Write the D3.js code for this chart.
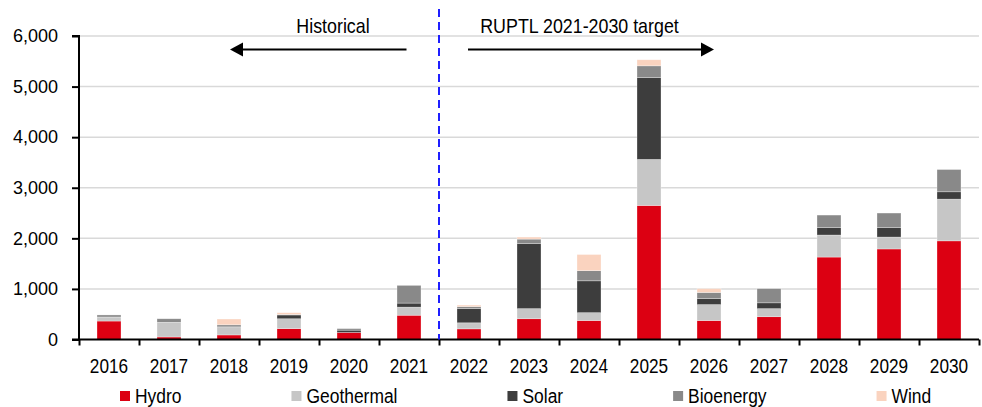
<!DOCTYPE html>
<html>
<head>
<meta charset="utf-8">
<script src="https://cdn.jsdelivr.net/npm/d3@7"></script>
<style>
  html, body { margin: 0; padding: 0; background: #fff; }
  svg { display: block; font-family: "Liberation Sans", Arial, sans-serif; }
</style>
</head>
<body>
<svg id="chart" width="982" height="407"></svg>
<script>
const years = ["2016","2017","2018","2019","2020","2021","2022","2023","2024","2025","2026","2027","2028","2029","2030"];
const seriesNames = ["Hydro","Geothermal","Solar","Bioenergy","Wind"];
const hydro      = [365, 50, 90, 215, 140, 480, 210, 410, 375, 2650, 375, 450, 1630, 1790, 1950];
const geothermal = [80, 290, 160, 195, 0, 160, 120, 200, 155, 910, 315, 160, 435, 235, 825];
const solar      = [0, 0, 0, 75, 45, 80, 280, 1290, 630, 1620, 120, 115, 145, 185, 145];
const bioenergy  = [40, 70, 40, 10, 30, 350, 40, 85, 200, 230, 120, 280, 250, 290, 440];
const wind       = [0, 0, 115, 35, 0, 0, 30, 40, 320, 120, 75, 0, 0, 0, 0];
const yTicks = [0, 1000, 2000, 3000, 4000, 5000, 6000];
const annotationLeft = "Historical";
const annotationRight = "RUPTL 2021-2030 target";

const colors = {Hydro:"#DC0012", Geothermal:"#C6C6C6", Solar:"#3D3D3D", Bioenergy:"#898989", Wind:"#FAD3BF"};

const rows = years.map((yr, i) => ({
  year: yr, Hydro: hydro[i], Geothermal: geothermal[i], Solar: solar[i], Bioenergy: bioenergy[i], Wind: wind[i]
}));

const svg = d3.select("#chart");
const pLeft = 79, pRight = 979, pTop = 36, pBottom = 339.5;

const x = d3.scaleBand().domain(years).range([pLeft, pRight]).paddingInner(0.6).paddingOuter(0.3);
const xIdx = d3.scaleLinear().domain([0, years.length]).range([pLeft, pRight]);
const y = d3.scaleLinear().domain([0, 6000]).range([pBottom, pTop]);

// gridlines
svg.append("g").selectAll("line").data(yTicks.filter(d => d > 0)).join("line")
  .attr("x1", pLeft).attr("x2", pRight)
  .attr("y1", d => y(d)).attr("y2", d => y(d))
  .attr("stroke", "#D9D9D9").attr("stroke-width", 1.5);

// bars
const stack = d3.stack().keys(seriesNames)(rows);
svg.append("g").selectAll("g").data(stack).join("g")
  .attr("fill", d => colors[d.key])
  .selectAll("rect").data(d => d.filter(p => p[1] - p[0] > 0)).join("rect")
  .attr("x", d => x(d.data.year))
  .attr("width", x.bandwidth())
  .attr("y", d => y(d[1]))
  .attr("height", d => y(d[0]) - y(d[1]))
  .attr("stroke", "rgba(255,255,255,0.5)").attr("stroke-width", 0.6);

// y axis
const yAxis = svg.append("g").attr("transform", `translate(${pLeft},0)`)
  .call(d3.axisLeft(y).tickValues(yTicks).tickFormat(d3.format(",")).tickSize(7).tickPadding(14));
yAxis.select(".domain").attr("stroke", "#000").attr("stroke-width", 2)
  .attr("d", `M-7,${y(6000)}H0V${pBottom}H-7`);
yAxis.selectAll(".tick line").attr("stroke", "#000").attr("stroke-width", 2);
yAxis.selectAll(".tick text").attr("font-size", 18).attr("fill", "#000")
  .attr("font-family", "Liberation Sans, Arial, sans-serif").attr("dy", "0.32em");

// x axis with boundary ticks
const xAxis = svg.append("g").attr("transform", `translate(0,${pBottom})`)
  .call(d3.axisBottom(xIdx).tickValues(d3.range(years.length + 1)).tickFormat("").tickSize(6));
xAxis.select(".domain").attr("stroke", "#000").attr("stroke-width", 2).attr("d", `M${pLeft},0H${pRight}`);
xAxis.selectAll(".tick line").attr("stroke", "#000").attr("stroke-width", 2);

// x labels (condensed look)
svg.append("g").selectAll("text").data(years).join("text")
  .attr("transform", d => `translate(${x(d) + x.bandwidth()/2},373) scale(0.82,1)`)
  .attr("text-anchor", "middle").attr("font-size", 21).attr("fill", "#000")
  .text(d => d);

// dashed divider
const divX = xIdx(6);
svg.append("line").attr("x1", divX).attr("x2", divX).attr("y1", 9).attr("y2", pBottom)
  .attr("stroke", "#1F1FFF").attr("stroke-width", 2).attr("stroke-dasharray", "8,5");

// annotations
function condensedText(t, cx, by, size, sx) {
  svg.append("text").attr("transform", `translate(${cx},${by}) scale(${sx},1)`)
    .attr("text-anchor", "middle").attr("font-size", size).attr("fill", "#000").text(t);
}
condensedText(annotationLeft, 333, 33, 19.5, 0.915);
condensedText(annotationRight, 579.5, 33, 19.5, 0.915);

// arrows
const ay = 49.5;
function arrow(x1, x2) {
  const dir = Math.sign(x2 - x1), hl = 13, hw = 7;
  svg.append("line").attr("x1", x1).attr("x2", x2 - dir * hl).attr("y1", ay).attr("y2", ay)
    .attr("stroke", "#000").attr("stroke-width", 2);
  svg.append("path").attr("d", `M${x2},${ay}L${x2 - dir*hl},${ay - hw}L${x2 - dir*hl},${ay + hw}Z`).attr("fill", "#000");
}
arrow(406.5, 230);
arrow(468, 714);

// legend
const lg = svg.append("g");
let lx = 120;
const legScale = 0.83;
seriesNames.forEach(name => {
  lg.append("rect").attr("x", lx).attr("y", 391).attr("width", 10).attr("height", 10).attr("fill", colors[name]);
  const t = lg.append("text").attr("transform", `translate(${lx + 15},403) scale(${legScale},1)`)
    .attr("font-size", 21).attr("fill", "#000").text(name);
  const w = t.node().getComputedTextLength() * legScale;
  lx += 15 + w + 110;
});
</script>
</body>
</html>
